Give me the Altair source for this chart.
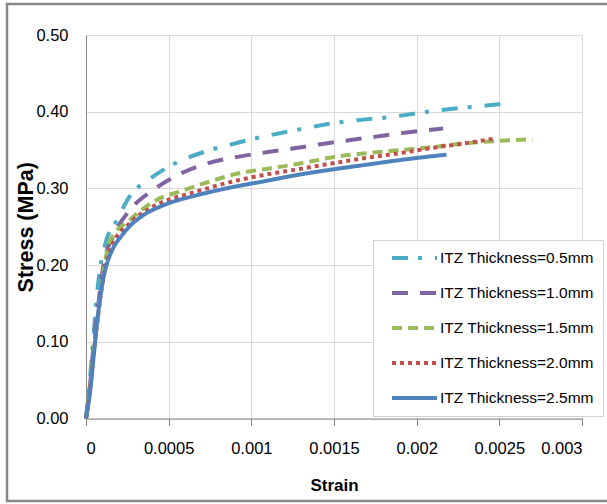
import altair as alt
import pandas as pd

# Stress-strain curves for five ITZ thicknesses
series_names = [
    "ITZ Thickness=0.5mm",
    "ITZ Thickness=1.0mm",
    "ITZ Thickness=1.5mm",
    "ITZ Thickness=2.0mm",
    "ITZ Thickness=2.5mm",
]

strain_05 = [0, 0.000025, 0.00005, 0.0000665, 0.000085, 0.000117, 0.000188, 0.000268,
             0.000377, 0.000498, 0.000629, 0.00075, 0.000891, 0.00102, 0.00115, 0.00129,
             0.00156, 0.00184, 0.0021, 0.00237, 0.00251]
stress_05 = [0, 0.055, 0.12, 0.162, 0.195, 0.228, 0.259, 0.291,
             0.311, 0.328, 0.341, 0.350, 0.358, 0.365, 0.371, 0.377,
             0.387, 0.393, 0.401, 0.407, 0.410]

strain_10 = [0, 0.000025, 0.00005, 0.000075, 0.000107, 0.000168, 0.000266, 0.000407,
             0.000579, 0.00074, 0.000912, 0.00109, 0.00125, 0.00143, 0.0016, 0.00177,
             0.00194, 0.00216]
stress_10 = [0, 0.045, 0.105, 0.15, 0.202, 0.239, 0.272, 0.298,
             0.320, 0.333, 0.341, 0.347, 0.352, 0.358, 0.363, 0.368,
             0.373, 0.378]

strain_15 = [0, 0.000025, 0.00005, 0.000075, 0.0001, 0.000147, 0.000266, 0.000427,
             0.000569, 0.00075, 0.000932, 0.00111, 0.00131, 0.0015, 0.0017, 0.0019,
             0.0021, 0.0023, 0.0025, 0.0027]
stress_15 = [0, 0.042, 0.095, 0.14, 0.183, 0.232, 0.259, 0.285,
             0.296, 0.309, 0.320, 0.326, 0.333, 0.341, 0.346, 0.350,
             0.354, 0.359, 0.362, 0.364]

strain_20 = [0, 0.000025, 0.00005, 0.000075, 0.0001, 0.00015, 0.000266, 0.000387,
             0.00067, 0.00097, 0.00131, 0.0015, 0.0017, 0.0019, 0.0021, 0.0023, 0.00247]
stress_20 = [0, 0.04, 0.092, 0.137, 0.178, 0.222, 0.255, 0.274,
             0.296, 0.313, 0.326, 0.333, 0.340, 0.346, 0.353, 0.359, 0.365]

strain_25 = [0, 0.000026, 0.0000464, 0.0000665, 0.0000867, 0.000107, 0.000127, 0.000157,
             0.000218, 0.00027, 0.000339, 0.000468, 0.00067, 0.000871, 0.00107, 0.00129,
             0.0015, 0.0017, 0.0019, 0.00218]
stress_25 = [0, 0.037, 0.081, 0.124, 0.159, 0.185, 0.202, 0.219,
             0.239, 0.252, 0.264, 0.278, 0.291, 0.301, 0.309, 0.318,
             0.325, 0.331, 0.337, 0.344]

x_ticks = [0, 0.0005, 0.001, 0.0015, 0.002, 0.0025, 0.003]
y_ticks = [0, 0.1, 0.2, 0.3, 0.4, 0.5]

line_colors = ["#4BACC6", "#8064A2", "#9BBB59", "#C0504D", "#4F81BD"]
line_dashes = [[16, 10, 4, 13], [16, 12], [10, 6], [4, 4], [1, 0]]

curves = [
    (strain_05, stress_05),
    (strain_10, stress_10),
    (strain_15, stress_15),
    (strain_20, stress_20),
    (strain_25, stress_25),
]
rows = []
for name, (xs, ys) in zip(series_names, curves):
    for i, (sx, sy) in enumerate(zip(xs, ys)):
        rows.append({"series": name, "idx": i, "strain": sx, "stress": sy})
df = pd.DataFrame(rows)

FONT = "Liberation Sans, Arial, sans-serif"

legend = alt.Legend(
    title=None,
    orient="none",
    legendX=287,
    legendY=205,
    symbolType="stroke",
    symbolSize=2025,
    symbolStrokeWidth=4,
    clipHeight=18,
    rowPadding=17,
    symbolOffset=8,
    labelOffset=1,
    labelFont=FONT,
    labelFontSize=15.5,
    labelColor="#000000",
    labelLimit=400,
    padding=9,
    fillColor="#ffffff",
    strokeColor="#d0d0d0",
)

lines = alt.Chart(df).mark_line(
    strokeWidth=4, strokeCap="butt", interpolate="monotone"
).encode(
    x=alt.X(
        "strain:Q",
        scale=alt.Scale(domain=[0, 0.003], nice=False),
        axis=alt.Axis(
            title="Strain",
            values=x_ticks,
            format="~g",
            grid=True,
            ticks=True,
            tickSize=7,
            labelPadding=15,
            titleFont=FONT,
            titleFontSize=17,
            titleFontWeight="bold",
            titleBaseline="middle",
            titleY=67,
        ),
    ),
    y=alt.Y(
        "stress:Q",
        scale=alt.Scale(domain=[0, 0.5], nice=False),
        axis=alt.Axis(
            title="Stress (MPa)",
            values=y_ticks,
            format=".2f",
            grid=True,
            ticks=False,
            labelPadding=18,
            titleFont=FONT,
            titleFontSize=21.5,
            titleFontWeight="bold",
            titleBaseline="middle",
            titleX=-60,
        ),
    ),
    color=alt.Color(
        "series:N",
        scale=alt.Scale(domain=series_names, range=line_colors),
        legend=legend,
    ),
    strokeDash=alt.StrokeDash(
        "series:N",
        scale=alt.Scale(domain=series_names, range=line_dashes),
        legend=legend,
    ),
    order=alt.Order("idx:Q"),
)

# Gray border around the whole figure
frame = alt.Chart(pd.DataFrame({"k": [0]})).mark_rect(
    fill=None, stroke="#868686", strokeWidth=2.5
).encode(
    x=alt.value(-79), x2=alt.value(530), y=alt.value(-31), y2=alt.value(466)
)

chart = alt.layer(lines, frame).properties(
    width=496,
    height=383.5,
    autosize=alt.AutoSizeParams(type="none"),
    padding={"left": 86, "top": 35, "right": 25, "bottom": 86},
    background="#ffffff",
).configure_view(
    stroke=None
).configure_axis(
    domainColor="#868686",
    domainWidth=1,
    tickColor="#868686",
    tickWidth=1,
    gridColor="#d9d9d9",
    gridWidth=1,
    labelFont=FONT,
    labelFontSize=16.5,
    labelColor="#000000",
    titleColor="#000000",
)

chart.save("out.html", embed_options={"renderer": "svg", "actions": False})
